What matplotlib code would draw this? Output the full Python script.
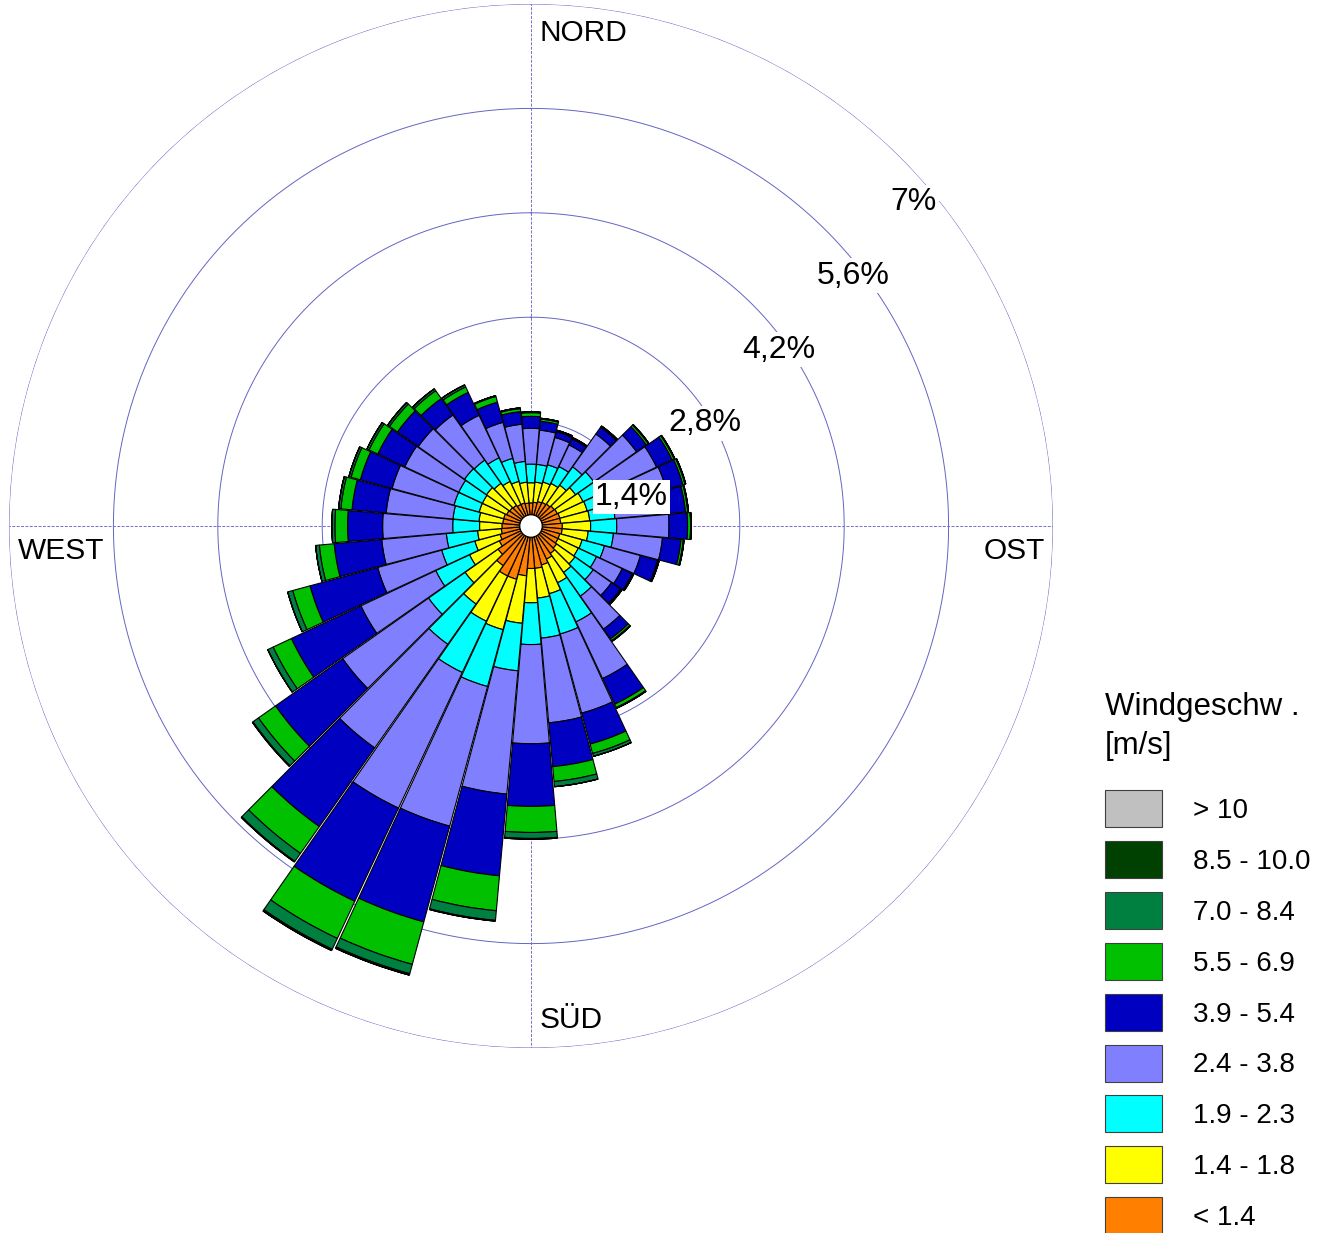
import numpy as np
import matplotlib
matplotlib.use("Agg")
import matplotlib.pyplot as plt
from matplotlib.patches import Rectangle

plt.rcParams["font.family"] = ["Liberation Sans", "DejaVu Sans"]

# Wind directions (degrees, clockwise from north), 10 degree sectors
directions = np.arange(0, 360, 10)

# Frequency (%) per speed class and direction
f_lt14 = [0.16, 0.17, 0.19, 0.20, 0.21, 0.23, 0.24, 0.25, 0.25, 0.27, 0.27, 0.25,
          0.25, 0.27, 0.30, 0.34, 0.39, 0.42, 0.42, 0.52, 0.59, 0.59, 0.50, 0.39,
          0.32, 0.28, 0.25, 0.24, 0.23, 0.23, 0.21, 0.20, 0.19, 0.17, 0.17, 0.16]
f_14_18 = [0.27, 0.27, 0.27, 0.28, 0.31, 0.35, 0.38, 0.38, 0.39, 0.38, 0.35, 0.31,
           0.30, 0.30, 0.31, 0.35, 0.40, 0.40, 0.46, 0.64, 0.70, 0.67, 0.63, 0.54,
           0.44, 0.35, 0.32, 0.30, 0.32, 0.34, 0.36, 0.38, 0.36, 0.34, 0.30, 0.28]
f_19_23 = [0.25, 0.24, 0.24, 0.25, 0.30, 0.30, 0.31, 0.32, 0.34, 0.35, 0.34, 0.31,
           0.27, 0.30, 0.39, 0.58, 0.56, 0.54, 0.56, 0.64, 0.79, 0.76, 0.66, 0.60,
           0.50, 0.46, 0.42, 0.36, 0.35, 0.35, 0.35, 0.36, 0.38, 0.35, 0.32, 0.28]
f_24_38 = [0.48, 0.46, 0.38, 0.32, 0.54, 0.70, 0.78, 0.78, 0.72, 0.70, 0.66, 0.50,
           0.38, 0.30, 0.54, 0.84, 1.10, 1.14, 1.33, 1.66, 1.94, 2.01, 1.70, 1.41,
           1.11, 0.89, 0.87, 0.94, 0.90, 0.86, 0.80, 0.76, 0.74, 0.63, 0.50, 0.50]
f_39_54 = [0.16, 0.12, 0.08, 0.09, 0.11, 0.16, 0.23, 0.23, 0.23, 0.25, 0.25, 0.24,
           0.15, 0.15, 0.16, 0.38, 0.43, 0.59, 0.84, 1.10, 1.33, 1.38, 1.29, 1.10,
           1.03, 0.94, 0.64, 0.47, 0.46, 0.44, 0.40, 0.34, 0.27, 0.34, 0.28, 0.17]
f_55_69 = [0.05, 0.03, 0.01, 0.01, 0.01, 0.03, 0.03, 0.03, 0.03, 0.04, 0.03, 0.01,
           0.01, 0.01, 0.03, 0.05, 0.13, 0.20, 0.35, 0.47, 0.59, 0.55, 0.44, 0.28,
           0.27, 0.24, 0.20, 0.17, 0.15, 0.13, 0.13, 0.13, 0.13, 0.08, 0.08, 0.04]
f_70_84 = [0.01, 0.01, 0.01, 0.01, 0.01, 0.01, 0.01, 0.01, 0.01, 0.01, 0.01, 0.01,
           0.01, 0.01, 0.01, 0.01, 0.04, 0.07, 0.08, 0.13, 0.13, 0.16, 0.13, 0.09,
           0.08, 0.07, 0.05, 0.04, 0.03, 0.03, 0.03, 0.03, 0.03, 0.03, 0.01, 0.01]
f_85_100 = [0.00, 0.00, 0.00, 0.00, 0.00, 0.00, 0.00, 0.00, 0.00, 0.00, 0.00, 0.00,
            0.00, 0.00, 0.00, 0.00, 0.00, 0.00, 0.01, 0.01, 0.02, 0.02, 0.01, 0.01,
            0.00, 0.00, 0.00, 0.00, 0.00, 0.00, 0.00, 0.00, 0.00, 0.00, 0.00, 0.00]
f_gt10 = [0.0] * 36

calm_radius = 0.15

speed_labels = ["< 1.4", "1.4 - 1.8", "1.9 - 2.3", "2.4 - 3.8", "3.9 - 5.4",
                "5.5 - 6.9", "7.0 - 8.4", "8.5 - 10.0", "> 10"]
speed_colors = ["#ff8000", "#ffff00", "#00ffff", "#8080ff", "#0000c0",
                "#00c000", "#008040", "#004000", "#c0c0c0"]
speed_data = [f_lt14, f_14_18, f_19_23, f_24_38, f_39_54,
              f_55_69, f_70_84, f_85_100, f_gt10]

ring_values = [1.4, 2.8, 4.2, 5.6, 7.0]
ring_labels = ["1,4%", "2,8%", "4,2%", "5,6%", "7%"]

W, H = 1333, 1233
fig = plt.figure(figsize=(W / 100, H / 100), dpi=100)
ax = fig.add_axes([9 / W, 185 / H, 1044 / W, 1044 / H], projection="polar")
ax.set_theta_zero_location("N")
ax.set_theta_direction(-1)
ax.set_ylim(0, 7.0)
ax.set_axis_off()

# grid circles and axis lines
th = np.linspace(0, 2 * np.pi, 721)
for v in ring_values:
    ax.plot(th, np.full_like(th, v), color="#6464c4", lw=0.7, zorder=0.5)
for a in [0, 90, 180, 270]:
    ax.plot([np.deg2rad(a)] * 2, [0, 7.0], color="#7070c8", lw=0.7,
            ls=(0, (3, 1.5)), zorder=0.5)

# stacked bars
theta = np.deg2rad(directions)
width = np.deg2rad(9.7)
bottom = np.full(36, calm_radius)
for vals, col in zip(speed_data, speed_colors):
    vals = np.array(vals)
    ax.bar(theta, vals, width=width, bottom=bottom, color=col,
           edgecolor="black", linewidth=0.8, zorder=2)
    bottom = bottom + vals

# calm circle
ax.fill(th, np.full_like(th, calm_radius), facecolor="white",
        edgecolor="black", lw=0.8, zorder=3)

# ring labels
for v, lab in zip(ring_values, ring_labels):
    ax.annotate(lab, xy=(np.deg2rad(45), v), xytext=(-10, -45),
                textcoords="offset pixels", ha="left", va="center",
                fontsize=23, zorder=5,
                bbox=dict(facecolor="white", edgecolor="none", pad=1.5))

# compass labels
bb = dict(facecolor="white", edgecolor="none", pad=1)
ax.annotate("NORD", xy=(0, 7.0), xytext=(9, -29), textcoords="offset pixels",
            ha="left", va="center", fontsize=21.5, bbox=bb, zorder=5)
ax.annotate("SÜD", xy=(np.pi, 7.0), xytext=(9, 28), textcoords="offset pixels",
            ha="left", va="center", fontsize=21.5, bbox=bb, zorder=5)
ax.annotate("WEST", xy=(1.5 * np.pi, 7.0), xytext=(9, -25),
            textcoords="offset pixels", ha="left", va="center",
            fontsize=21.5, bbox=bb, zorder=5)
ax.annotate("OST", xy=(0.5 * np.pi, 7.0), xytext=(-8, -25),
            textcoords="offset pixels", ha="right", va="center",
            fontsize=21.5, bbox=bb, zorder=5)

# legend
fig.text(1105 / W, 1 - 707 / H, "Windgeschw .", ha="left", va="center",
         fontsize=22.5)
fig.text(1105 / W, 1 - 746 / H, "[m/s]", ha="left", va="center", fontsize=22.5)
for i, (lab, col) in enumerate(zip(speed_labels[::-1], speed_colors[::-1])):
    top = 790 + i * 50.9
    fig.add_artist(Rectangle((1105 / W, 1 - (top + 37) / H), 57 / W, 37 / H,
                             transform=fig.transFigure, facecolor=col,
                             edgecolor="#404040", lw=0.8))
    fig.text(1193 / W, 1 - (top + 21) / H, lab, ha="left", va="center",
             fontsize=20)

fig.savefig("out.png", dpi=100)
